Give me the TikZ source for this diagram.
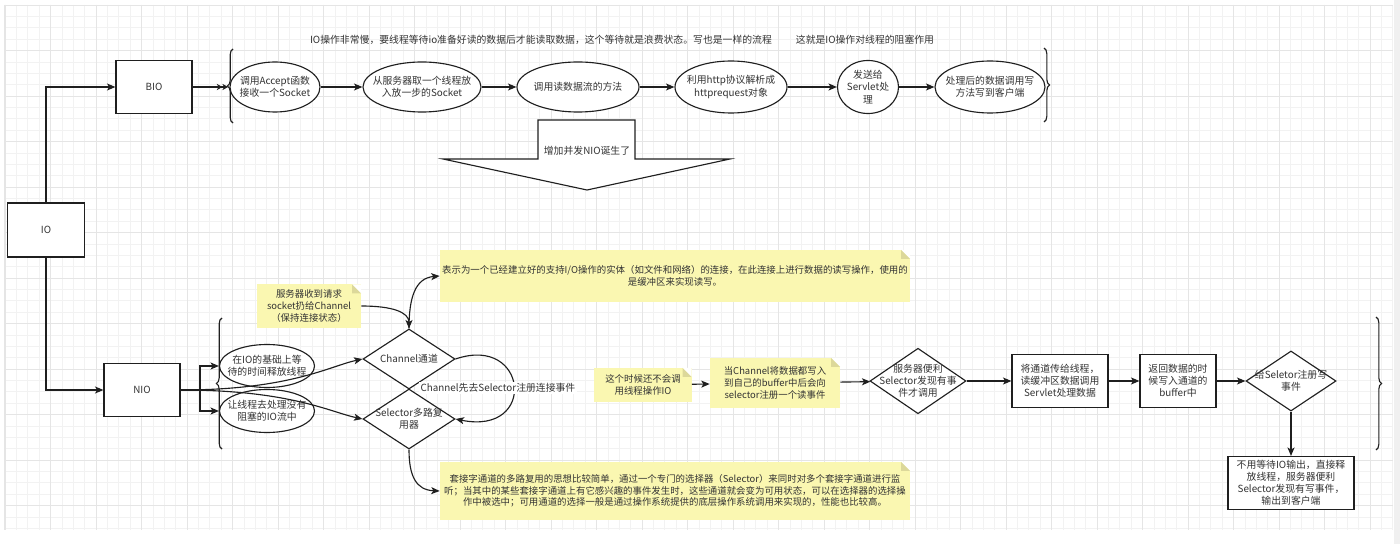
\documentclass[tikz,border=0pt]{standalone}
\usepackage{fontspec}
\setmainfont{Noto Sans CJK SC}
\usepackage{tikz}
\usetikzlibrary{arrows.meta, shapes.geometric, decorations.pathreplacing}

\definecolor{linec}{HTML}{1F1F1F}
\definecolor{textc}{HTML}{333333}
\definecolor{notefill}{HTML}{FAF7B1}
\definecolor{notefold}{HTML}{DCD89A}
\definecolor{gridminor}{HTML}{F2F2F2}
\definecolor{gridmajor}{HTML}{E5E5E5}
\newcommand{\boxfont}{\fontsize{7}{8.6}\selectfont}
\newcommand{\stickyfont}{\fontsize{6.7}{8.3}\selectfont}

\begin{document}
\begin{tikzpicture}[
    x=0.025cm, y=-0.025cm,
    box/.style={
        draw=linec,
        line width=0.8pt,
        fill=white,
        align=center,
        font=\boxfont,
        text=textc,
        inner sep=1pt
    },
    ell/.style={
        ellipse,
        draw=linec,
        line width=0.8pt,
        fill=white,
        align=center,
        font=\boxfont,
        text=textc,
        inner xsep=-10pt,
        inner ysep=-2pt
    },
    dia/.style={
        diamond,
        draw=linec,
        line width=0.8pt,
        fill=white,
        align=center,
        font=\boxfont,
        text=textc,
        inner sep=-8pt
    },
    note/.style={
        fill=notefill,
        align=center,
        font=\stickyfont,
        text=textc,
        inner sep=1pt,
        path picture={
            \fill[white] (path picture bounding box.north east) -- ++(-9,0) -- ++(9,9) -- cycle;
            \fill[notefold] (path picture bounding box.north east) ++(-9,0) -- ++(0,9) -- ++(9,0) -- cycle;
        }
    },
    freetext/.style={
        font=\boxfont,
        text=textc,
        inner sep=1pt
    },
    arrow/.style={
        -{Stealth[length=6pt, width=5pt, inset=1.5pt]},
        line width=0.8pt,
        draw=linec
    },
    dblarrow/.style={
        -{Stealth[length=4pt, width=4.5pt]Stealth[length=4pt, width=4.5pt]},
        line width=0.8pt,
        draw=linec
    },
    curly/.style={
        decorate,
        decoration={brace, amplitude=4pt},
        line width=0.8pt,
        draw=linec
    }
]

\useasboundingbox (0,0) rectangle (1400,544);

% Background grid
\fill[white] (0,0) rectangle (1400,544);
\fill[gray!12] (1394,0) rectangle (1400,544);
\draw[gray!20, line width=0.6pt] (4,5) -- (4,530);
\foreach \gx in {5,16.375,...,1393} \draw[gridminor, line width=0.4pt] (\gx,5) -- (\gx,530);
\foreach \gy in {5,16.375,...,530} \draw[gridminor, line width=0.4pt] (5,\gy) -- (1393,\gy);
\foreach \gx in {5,50.5,...,1393} \draw[gridmajor, line width=0.4pt] (\gx,5) -- (\gx,530);
\foreach \gy in {5,50.5,...,530} \draw[gridmajor, line width=0.4pt] (5,\gy) -- (1393,\gy);

% Root
\node[box, minimum width=19.25mm, minimum height=13.5mm] (io) at (46,230) {IO};

% BIO branch
\node[box, minimum width=19mm, minimum height=13.25mm] (bio) at (154,87) {BIO};

\node[freetext] (slowText) at (541,40) {IO操作非常慢，要线程等待io准备好读的数据后才能读取数据，这个等待就是浪费状态。写也是一样的流程};
\node[freetext] (blockText) at (865,40) {这就是IO操作对线程的阻塞作用};

\node[ell, minimum width=22.5mm, minimum height=12.5mm] (acceptEll) at (275,87) {调用Accept函数\\接收一个Socket};
\node[ell, minimum width=29.5mm, minimum height=12.5mm] (threadEll) at (422,87) {从服务器取一个线程放\\入放一步的Socket};
\node[ell, minimum width=30.5mm, minimum height=12.5mm] (readEll) at (578,87) {调用读数据流的方法};
\node[ell, minimum width=28mm, minimum height=13mm] (parseEll) at (731,87) {利用http协议解析成\\httprequest对象};
\node[ell, minimum width=15.25mm, minimum height=13.25mm] (servletEll) at (868,87) {发送给\\Servlet处\\理};
\node[ell, minimum width=27.5mm, minimum height=13mm] (writeEll) at (990,87) {处理后的数据调用写\\方法写到客户端};

\coordinate (bioBrace) at (228,87);
\draw[curly] (233,123) -- (233,49);
\draw[curly] (1044,48) -- (1044,122);

% Big arrow down to NIO
\draw[line width=0.8pt, draw=linec, fill=white] (538,120) -- (635,120) -- (635,159) -- (730,159) -- (587,190) -- (443,159) -- (538,159) -- cycle;
\node[freetext] (nioBorn) at (587,151) {增加并发NIO诞生了};

% NIO branch
\node[box, minimum width=19mm, minimum height=13.25mm] (nio) at (142,390) {NIO};

\node[ell, minimum width=23.75mm, minimum height=10.75mm] (waitEll) at (267,366) {在IO的基础上等\\待的时间释放线程};
\node[ell, minimum width=23.75mm, minimum height=10.75mm] (freeEll) at (267,411) {让线程去处理没有\\阻塞的IO流中};
\coordinate (split) at (200,390);
\draw[curly] (222,449) -- (222,318);

\node[note, minimum width=26mm, minimum height=10.75mm] (recvNote) at (309,306) {服务器收到请求\\socket扔给Channel\\（保持连接状态）};

\node[dia, minimum width=23mm, minimum height=15mm] (chanDia) at (409,359) {Channel通道};
\node[dia, minimum width=23mm, minimum height=15mm] (selDia) at (409,419) {Selector多路复\\用器};

\node[note, minimum width=117.5mm, minimum height=13mm] (chanNote) at (675,276) {表示为一个已经建立好的支持I/O操作的实体（如文件和网络）的连接，在此连接上进行数据的读写操作，使用的\\是缓冲区来实现读写。};
\node[note, minimum width=117.5mm, minimum height=14.5mm] (selNote) at (675,491) {套接字通道的多路复用的思想比较简单，通过一个专门的选择器（Selector）来同时对多个套接字通道进行监\\听；当其中的某些套接字通道上有它感兴趣的事件发生时，这些通道就会变为可用状态，可以在选择器的选择操\\作中被选中；可用通道的选择一般是通过操作系统提供的底层操作系统调用来实现的，性能也比较高。};

\node[note, minimum width=24.25mm, minimum height=8.5mm] (noIoNote) at (643,385) {这个时候还不会调\\用线程操作IO};
\node[note, minimum width=32.5mm, minimum height=12.5mm] (bufferNote) at (775,383) {当Channel将数据都写入\\到自己的buffer中后会向\\selector注册一个读事件};

\node[dia, minimum width=24mm, minimum height=15.5mm] (pollDia) at (918,381) {服务器便利\\Selector发现有事\\件才调用};
\node[box, minimum width=24mm, minimum height=13.25mm] (passBox) at (1060,381) {将通道传给线程，\\读缓冲区数据调用\\Servlet处理数据};
\node[box, minimum width=19mm, minimum height=13.25mm] (returnBox) at (1178,381) {返回数据的时\\候写入通道的\\buffer中};
\node[dia, minimum width=22.5mm, minimum height=15mm] (writeDia) at (1291,381) {给Seletor注册写\\事件};
\node[box, minimum width=31.5mm, minimum height=13.25mm] (outBox) at (1291,483) {不用等待IO输出，直接释\\放线程，服务器便利\\Selector发现有写事件，\\输出到客户端};

\draw[curly] (1376,317) -- (1376,450);

% Arrows
\draw[arrow] (io.north) |- (bio.west);
\draw[arrow] (io.south) |- (nio.west);
\draw[dblarrow] (bio.east) -- (bioBrace);
\draw[arrow] (acceptEll) -- (threadEll);
\draw[arrow] (threadEll) -- (readEll);
\draw[arrow] (readEll) -- (parseEll);
\draw[arrow] (parseEll) -- (servletEll);
\draw[arrow] (servletEll) -- (writeEll);

\draw[line width=0.8pt, draw=linec] (nio.east) -- (split);
\draw[arrow] (split) |- (waitEll.west);
\draw[arrow] (split) |- (freeEll.west);
\draw[arrow] (nio.east) .. controls (290,390) and (330,366) .. (chanDia.west);
\draw[arrow] (nio.east) .. controls (290,390) and (330,412) .. (selDia.west);
\draw[arrow] (recvNote.east) .. controls (392,306) and (409,312) .. (chanDia.north);
\draw[arrow] (chanDia.north) .. controls (409,298) and (415,278) .. (chanNote.west);
\draw[arrow] (selDia.south) .. controls (409,476) and (416,490) .. (selNote.west);
\draw[arrow] (chanDia.east) .. controls (528,334) and (538,436) .. (selDia.east);
\node[freetext, fill=white] (loopLabel) at (498,388) {Channel先去Selector注册连接事件};

\draw[arrow] (noIoNote) -- (bufferNote);
\draw[arrow] (bufferNote) -- (pollDia);
\draw[arrow] (pollDia) -- (passBox);
\draw[arrow] (passBox) -- (returnBox);
\draw[arrow] (returnBox) -- (writeDia);
\draw[arrow] (writeDia) -- (outBox);

\end{tikzpicture}
\end{document}
